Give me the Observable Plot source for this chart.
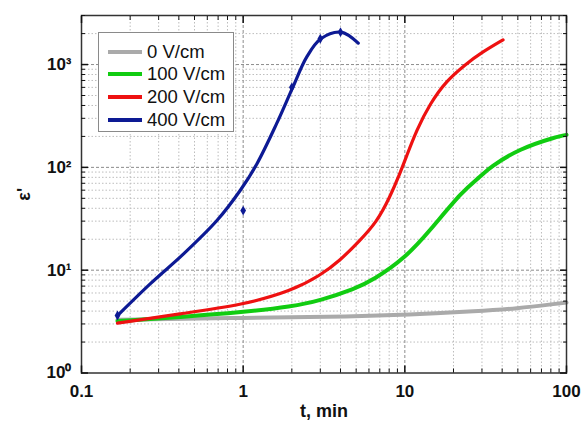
<!DOCTYPE html>
<html><head><meta charset="utf-8">
<script src="https://cdn.jsdelivr.net/npm/d3@7"></script>
<script src="https://cdn.jsdelivr.net/npm/@observablehq/plot@0.6"></script>
<style>
body{margin:0;background:#fff;}
#wrap{position:relative;width:583px;height:421px;}
.legend{position:absolute;left:98px;top:32px;width:136px;height:100px;border:1.5px solid #8a8a8a;background:#fff;box-sizing:border-box;font-family:"Liberation Sans",Arial,sans-serif;font-size:18.5px;color:#111;}
.row{position:absolute;left:9px;height:22px;display:flex;align-items:center;}
.sw{width:34px;height:4px;margin-right:5px;}
svg g[aria-label="y-axis label"] text, svg g[aria-label="x-axis label"] text{font-size:18px;}
</style>
</head><body>
<div id="wrap"></div>
<script>
// --- data ---
const seriesNames = ["0 V/cm","100 V/cm","200 V/cm","400 V/cm"];
const seriesColors = ["#aaaaaa","#11cc11","#ee1111","#0d1a94"];

const t0 = [0.167, 1, 5, 10, 29, 49, 86, 100];
const v0 = [3.3, 3.44, 3.55, 3.68, 3.99, 4.24, 4.71, 4.85];

const t100 = [0.167, 0.41, 1, 2, 3, 4.9, 6.37, 10.2, 14.3, 22.9, 29, 33.5, 51, 88, 100];
const v100 = [3.2, 3.5, 3.9, 4.43, 5.07, 6.6, 8.0, 13.4, 24.3, 59.6, 80, 100, 152, 200, 207];

const t200 = [0.167, 0.41, 1, 2, 3, 3.97, 5.27, 6.69, 8.08, 9.31, 10.2, 11.8, 14.3, 18.1, 24, 29, 40.5];
const v200 = [3.05, 3.77, 4.6, 6.3, 8.9, 12.4, 19.4, 29.3, 51.3, 86.7, 126, 229, 416, 700, 1018, 1273, 1740];

const t400fit = [0.167, 0.267, 0.428, 0.688, 0.958, 1.215, 1.61, 2.03, 2.47, 3.02, 4.03, 5.15];
const v400fit = [3.62, 7.4, 14.4, 30.4, 59.6, 108, 266, 603, 1180, 1780, 2066, 1615];

const t400pts = [0.167, 1, 2, 3, 4];
const v400pts = [3.62, 38, 600, 1780, 2066];

const xMajor = [0.1, 1, 10, 100];
const xTickLabels = ["0.1", "1", "10", "100"];
const xMinor = [0.2,0.3,0.4,0.5,0.6,0.7,0.8,0.9,2,3,4,5,6,7,8,9,20,30,40,50,60,70,80,90];
const yMajor = [1, 10, 100, 1000];
const yTickLabels = ["10\u2070", "10\u00B9", "10\u00B2", "10\u00B3"];
const yMinor = [2,3,4,5,6,7,8,9,20,30,40,50,60,70,80,90,200,300,400,500,600,700,800,900,2000,3000];

const xTitle = "t, min";
const yTitle = "\u03B5'";

// --- build tables ---
const tbl = (ts, vs) => ts.map((t, i) => ({t, v: vs[i]}));
const curves = [tbl(t0, v0), tbl(t100, v100), tbl(t200, v200), tbl(t400fit, v400fit)];
const widths = [4, 4, 3.2, 3.2];
const curveTypes = ["basis", "basis", "basis", "catmull-rom"];
const xLab = new Map(xMajor.map((v, i) => [v, xTickLabels[i]]));
const yLab = new Map(yMajor.map((v, i) => [v, yTickLabels[i]]));

const chart = Plot.plot({
  width: 583, height: 421,
  marginLeft: 81, marginRight: 17, marginTop: 15, marginBottom: 48.5,
  style: {fontFamily: "'Liberation Sans', Arial, sans-serif", fontSize: "17px", fontWeight: "bold", color: "#111", background: "#fff"},
  x: {type: "log", domain: [0.1, 100]},
  y: {type: "log", domain: [1, 3000]},
  marks: [
    Plot.gridX(xMinor, {stroke: "#bdbdbd", strokeOpacity: 1, strokeDasharray: "1.5,2"}),
    Plot.gridY(yMinor, {stroke: "#bdbdbd", strokeOpacity: 1, strokeDasharray: "1.5,2"}),
    Plot.gridX([1, 10], {stroke: "#8c8c8c", strokeOpacity: 1, strokeDasharray: "3,2"}),
    Plot.gridY([10, 100, 1000], {stroke: "#8c8c8c", strokeOpacity: 1, strokeDasharray: "3,2"}),
    ...curves.map((d, i) => Plot.line(d, {x: "t", y: "v", stroke: seriesColors[i], strokeWidth: widths[i], curve: curveTypes[i]})),
    Plot.dot(tbl(t400pts, v400pts), {x: "t", y: "v", symbol: "diamond", r: 3, fill: seriesColors[3]}),
    Plot.frame({stroke: "#333", strokeWidth: 1.5}),
    // tick labels + titles
    Plot.axisX(xMajor, {anchor: "bottom", tickSize: 0, tickPadding: 12, tickFormat: d => xLab.get(d), label: xTitle, labelAnchor: "center", labelOffset: 44, labelArrow: "none"}),
    Plot.axisY(yMajor, {anchor: "left", tickSize: 0, tickPadding: 10, tickFormat: d => yLab.get(d), label: yTitle, labelAnchor: "center", labelOffset: 64, labelArrow: "none"}),
    // inward ticks on all sides
    Plot.axisX(xMajor, {anchor: "bottom", tickSize: -7, tickFormat: () => "", label: null, strokeWidth: 1.5}),
    Plot.axisX(xMinor, {anchor: "bottom", tickSize: -4, tickFormat: () => "", label: null}),
    Plot.axisX(xMajor, {anchor: "top", tickSize: -7, tickFormat: () => "", label: null, strokeWidth: 1.5}),
    Plot.axisX(xMinor, {anchor: "top", tickSize: -4, tickFormat: () => "", label: null}),
    Plot.axisY(yMajor, {anchor: "left", tickSize: -7, tickFormat: () => "", label: null, strokeWidth: 1.5}),
    Plot.axisY(yMinor, {anchor: "left", tickSize: -4, tickFormat: () => "", label: null}),
    Plot.axisY(yMajor, {anchor: "right", tickSize: -7, tickFormat: () => "", label: null, strokeWidth: 1.5}),
    Plot.axisY(yMinor, {anchor: "right", tickSize: -4, tickFormat: () => "", label: null})
  ]
});
const wrap = document.getElementById("wrap");
wrap.appendChild(chart);

// legend overlay (inside the plot frame, as in the reference)
const leg = document.createElement("div");
leg.className = "legend";
const rowTops = [8, 30, 53, 76];
seriesNames.forEach((name, i) => {
  const r = document.createElement("div");
  r.className = "row";
  r.style.top = rowTops[i] + "px";
  const sw = document.createElement("div");
  sw.className = "sw";
  sw.style.background = seriesColors[i];
  const tx = document.createElement("span");
  tx.textContent = name;
  r.appendChild(sw); r.appendChild(tx);
  leg.appendChild(r);
});
wrap.appendChild(leg);
</script>
</body></html>
